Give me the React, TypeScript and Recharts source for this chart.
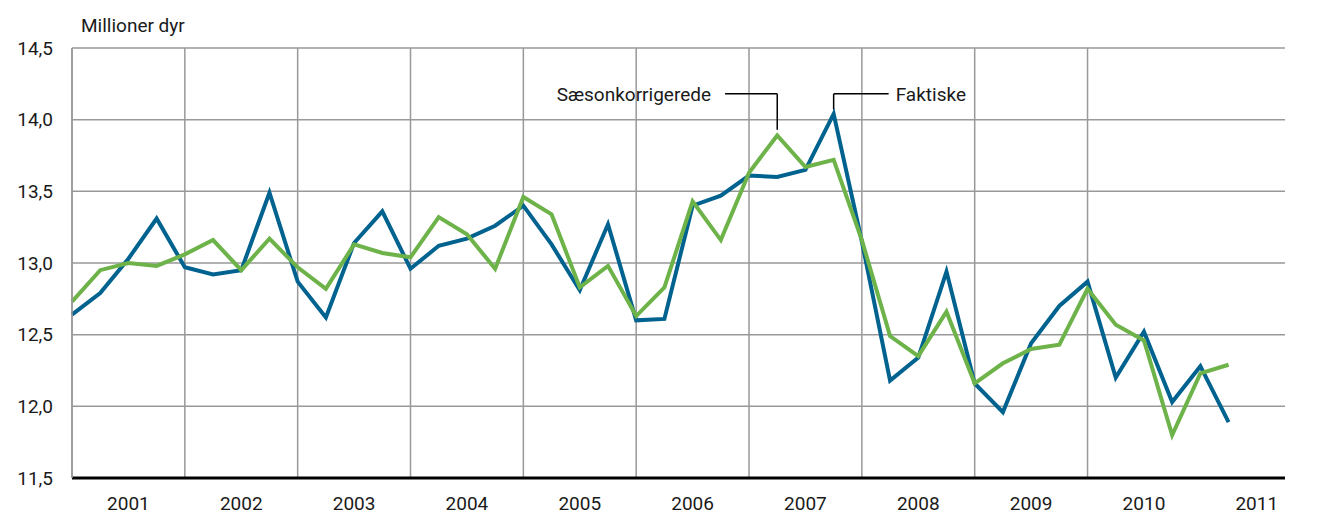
import React from "react";
import {
  CartesianGrid,
  Line,
  LineChart,
  ReferenceDot,
  ReferenceLine,
  XAxis,
  YAxis,
} from "recharts";

// quarters 2001 K1 .. 2011 K2, million animals
const faktiske = [
  12.64, 12.79, 13.03, 13.31, 12.97, 12.92, 12.95, 13.49, 12.87, 12.62, 13.14,
  13.36, 12.96, 13.12, 13.17, 13.26, 13.4, 13.13, 12.81, 13.27, 12.6, 12.61,
  13.4, 13.47, 13.61, 13.6, 13.65, 14.04, 13.15, 12.18, 12.34, 12.94, 12.16,
  11.96, 12.44, 12.7, 12.87, 12.2, 12.52, 12.03, 12.28, 11.89,
];

const saesonkorrigerede = [
  12.73, 12.95, 13.0, 12.98, 13.06, 13.16, 12.95, 13.17, 12.97, 12.82, 13.13,
  13.07, 13.04, 13.32, 13.2, 12.96, 13.46, 13.34, 12.83, 12.98, 12.63, 12.83,
  13.43, 13.16, 13.63, 13.89, 13.67, 13.72, 13.16, 12.49, 12.35, 12.66, 12.16,
  12.3, 12.4, 12.43, 12.82, 12.57, 12.46, 11.8, 12.23, 12.29,
];

const years = [
  "2001", "2002", "2003", "2004", "2005", "2006",
  "2007", "2008", "2009", "2010", "2011",
];

const yTicks = [11.5, 12, 12.5, 13, 13.5, 14, 14.5];

// annotation leaders (quarter index, value)
const saesonLabelAt = { x: 23.15, y: 14.18 };
const saesonPoint = { x: 25, y: 13.93 };
const faktiskeLabelAt = { x: 28.95, y: 14.18 };
const faktiskePoint = { x: 27, y: 14.07 };

const data = faktiske.map((v, i) => ({
  q: i,
  faktiske: v,
  saeson: saesonkorrigerede[i],
}));

const yearTicks = years.map((_, i) => i * 4 + 2);
const yearBounds = years.slice(0, -1).map((_, i) => i * 4);

const FONT = "Roboto, 'Liberation Sans', sans-serif";
const FS = 19;
const TXT = "#1a1a1a";
const BLUE = "#00628f";
const GREEN = "#6db34a";

export default function App() {
  return (
    <div style={{ position: "relative", width: 1303, height: 508, fontFamily: FONT }}>
      <span
        style={{
          position: "absolute",
          left: 73,
          top: 6,
          fontSize: FS,
          color: TXT,
          whiteSpace: "nowrap",
        }}
      >
        Millioner dyr
      </span>
      <LineChart
        width={1303}
        height={508}
        data={data}
        margin={{ top: 40, right: 26, left: 0, bottom: 8 }}
      >
        <CartesianGrid
          stroke="#999"
          strokeWidth={1.5}
          verticalValues={yearBounds}
          syncWithTicks
        />
        <XAxis
          dataKey="q"
          type="number"
          domain={[0, 43]}
          ticks={yearTicks}
          interval={0}
          tickFormatter={(v: number) => years[(v - 2) / 4]}
          tickLine={false}
          tickSize={0}
          tickMargin={19}
          height={30}
          axisLine={{ stroke: "#000", strokeWidth: 3 }}
          tick={{ fill: TXT, fontSize: FS, fontFamily: FONT }}
        />
        <YAxis
          type="number"
          domain={[11.5, 14.5]}
          ticks={yTicks}
          interval={0}
          width={64}
          tickFormatter={(v: number) => v.toFixed(1).replace(".", ",")}
          tickLine={false}
          tickSize={0}
          tickMargin={19}
          axisLine={{ stroke: "#999", strokeWidth: 1.5 }}
          tick={{ fill: TXT, fontSize: FS, fontFamily: FONT }}
        />
        <ReferenceLine
          segment={[saesonLabelAt, { x: saesonPoint.x, y: saesonLabelAt.y }]}
          stroke="#000"
          strokeWidth={1.5}
        />
        <ReferenceLine
          segment={[{ x: saesonPoint.x, y: saesonLabelAt.y }, saesonPoint]}
          stroke="#000"
          strokeWidth={1.5}
        />
        <ReferenceLine
          segment={[faktiskePoint, { x: faktiskePoint.x, y: faktiskeLabelAt.y }]}
          stroke="#000"
          strokeWidth={1.5}
        />
        <ReferenceLine
          segment={[{ x: faktiskePoint.x, y: faktiskeLabelAt.y }, faktiskeLabelAt]}
          stroke="#000"
          strokeWidth={1.5}
        />
        <ReferenceDot
          x={saesonLabelAt.x}
          y={saesonLabelAt.y}
          r={0}
          stroke="none"
          label={{
            value: "Sæsonkorrigerede",
            position: "left",
            offset: 14,
            fill: TXT,
            fontSize: FS,
            fontFamily: FONT,
          }}
        />
        <ReferenceDot
          x={faktiskeLabelAt.x}
          y={faktiskeLabelAt.y}
          r={0}
          stroke="none"
          label={{
            value: "Faktiske",
            position: "right",
            offset: 7,
            fill: TXT,
            fontSize: FS,
            fontFamily: FONT,
          }}
        />
        <Line
          dataKey="faktiske"
          stroke={BLUE}
          strokeWidth={4}
          dot={false}
          isAnimationActive={false}
        />
        <Line
          dataKey="saeson"
          stroke={GREEN}
          strokeWidth={4}
          dot={false}
          isAnimationActive={false}
        />
      </LineChart>
    </div>
  );
}
